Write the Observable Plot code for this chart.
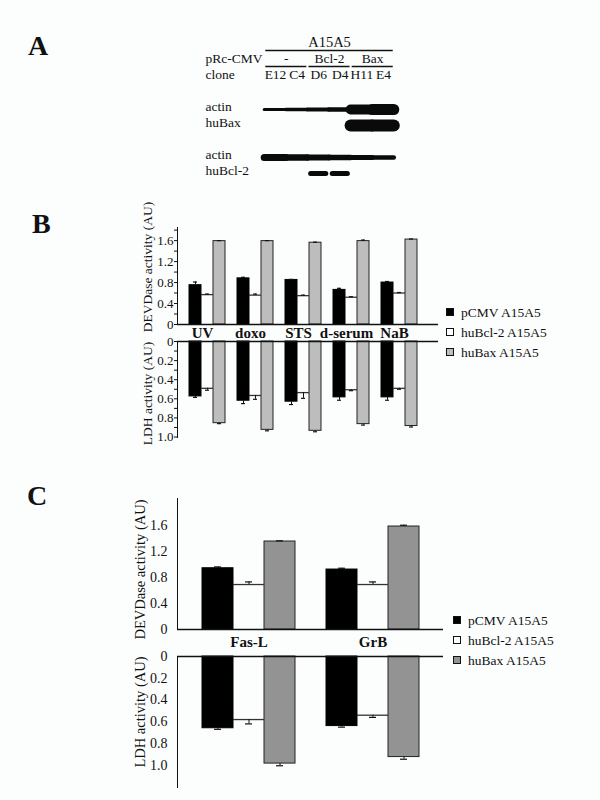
<!DOCTYPE html>
<html><head><meta charset="utf-8">
<script src="https://cdn.jsdelivr.net/npm/d3@7"></script>
<script src="https://cdn.jsdelivr.net/npm/@observablehq/plot@0.6"></script>
<style>
body{margin:0;background:#fcfefe;}
#root{position:relative;width:600px;height:800px;font-family:"Liberation Serif",serif;color:#111;overflow:hidden;}
.letter{position:absolute;font-weight:bold;font-size:28px;line-height:1;}
.legend{position:absolute;font-size:13.5px;line-height:20px;white-space:nowrap;}
.sw{display:inline-block;width:6px;height:6px;border:1px solid #111;margin-right:7px;vertical-align:middle;position:relative;top:-1px;}
</style></head><body><div id="root"></div>
<script>
// ---------- data ----------
const series = ["pCMV A15A5", "huBcl-2 A15A5", "huBax A15A5"];

// Panel A (western blot)
const clones = ["E12", "C4", "D6", "D4", "H11", "E4"];
const constructs = [
  {label: "-", lanes: ["E12", "C4"]},
  {label: "Bcl-2", lanes: ["D6", "D4"]},
  {label: "Bax", lanes: ["H11", "E4"]}
];
const blotRows = ["A15A5", "pRc-CMV", "clone", "sp1", "actin1", "huBax", "sp2", "actin2", "huBcl-2"];
const rowNames = ["pRc-CMV", "clone", "actin", "huBax", "actin", "huBcl-2"];
const rowKeys  = ["pRc-CMV", "clone", "actin1", "huBax", "actin2", "huBcl-2"];
const actinTopBand    = [3, 3.5, 4, 4.5, 10, 11];
const baxBand         = [0, 0, 0, 0, 12, 12];
const actinBottomBand = [7, 6.5, 6, 5.5, 5, 4.5];
const bcl2Band        = [0, 0, 5, 5, 0, 0];

// Panel B
const bCategories = ["UV", "doxo", "STS", "d-serum", "NaB"];
const bDevdPCMV = [0.75, 0.88, 0.85, 0.66, 0.80];
const bDevdBcl2 = [0.57, 0.56, 0.55, 0.52, 0.60];
const bDevdBax  = [1.59, 1.59, 1.56, 1.59, 1.62];
const bDevdErrPCMV = [0.06, 0.02, 0.01, 0.03, 0.02];
const bDevdErrBcl2 = [0.01, 0.02, 0.01, 0.01, 0.01];
const bDevdErrBax  = [0.01, 0.01, 0.01, 0.02, 0.01];
const bLdhPCMV = [0.575, 0.62, 0.63, 0.585, 0.585];
const bLdhBcl2 = [0.49, 0.565, 0.535, 0.505, 0.49];
const bLdhBax  = [0.855, 0.925, 0.935, 0.865, 0.885];
const bLdhErrPCMV = [0.01, 0.03, 0.03, 0.03, 0.03];
const bLdhErrBcl2 = [0.02, 0.04, 0.06, 0.01, 0.01];
const bLdhErrBax  = [0.005, 0.01, 0.01, 0.01, 0.01];

// Panel C
const cCategories = ["Fas-L", "GrB"];
const cDevdPCMV = [0.94, 0.92];
const cDevdBcl2 = [0.69, 0.69];
const cDevdBax  = [1.35, 1.58];
const cDevdErrPCMV = [0.02, 0.02];
const cDevdErrBcl2 = [0.04, 0.04];
const cDevdErrBax  = [0.01, 0.02];
const cLdhPCMV = [0.66, 0.64];
const cLdhBcl2 = [0.58, 0.54];
const cLdhBax  = [0.985, 0.925];
const cLdhErrPCMV = [0.01, 0.01];
const cLdhErrBcl2 = [0.04, 0.02];
const cLdhErrBax  = [0.02, 0.02];

const devdTicks = [0, 0.4, 0.8, 1.2, 1.6];
const devdMinorTicks = [0.2, 0.6, 1.0, 1.4, 1.8];
const ldhTicks  = [0, 0.2, 0.4, 0.6, 0.8, 1.0];
const ldhMinorTicks = [0.1, 0.3, 0.5, 0.7, 0.9];
const devdLabel = "DEVDase activity (AU)";
const ldhLabel  = "LDH activity (AU)";

// ---------- helpers ----------
const root = document.getElementById("root");
function place(node, top, left = 0) {
  node.style.position = "absolute"; node.style.top = top + "px"; node.style.left = left + "px";
  root.appendChild(node);
}
function table(cats, vals, errs) {
  const out = [];
  cats.forEach((c, i) => vals.forEach((arr, s) => out.push({cat: c, s, slot: c + "|" + s, v: arr[i], e: errs[s][i]})));
  return out;
}
function slotsOf(cats) {
  const d = [];
  cats.forEach((c, i) => { for (let s = 0; s < 3; s++) d.push(c + "|" + s); if (i < cats.length - 1) d.push("gap|" + i); });
  return d;
}
const baseStyle = {background: "transparent", fontFamily: "Liberation Serif, serif", fontSize: "14.5px", color: "#111", overflow: "visible"};

function barChart(o) {
  const data = table(o.cats, o.vals, o.errs);
  const major = new Set(o.ticks);
  const allTicks = [...o.ticks, ...(o.minor || [])].filter(t => t <= o.yDomain[1]).sort((a, b) => a - b);
  const fmt = d => !major.has(d) ? "" : d === 0 ? "0" : d.toFixed(1);
  const marks = [
    Plot.barY(data.filter(d => d.s === 0), {x: "slot", y: "v", fill: "#000", stroke: "#000", strokeWidth: 1}),
    Plot.barY(data.filter(d => d.s === 2), {x: "slot", y: "v", fill: o.gray, stroke: "#222", strokeWidth: 1}),
    Plot.tickY(data.filter(d => d.s === 1), {x: "slot", y: "v", stroke: "#333", strokeWidth: 1.3}),
    Plot.ruleX(data, {x: "slot", y1: "v", y2: d => d.v + d.e, stroke: "#111", strokeWidth: 1}),
    Plot.tickY(data, {x: "slot", y: d => d.v + d.e, stroke: "#111", strokeWidth: 1.2, insetLeft: o.cap, insetRight: o.cap}),
    Plot.ruleY([0], {stroke: "#111", strokeWidth: 1.3}),
    Plot.text([o.label], {text: d => d, frameAnchor: "left", textAnchor: "middle", lineAnchor: "middle", rotate: -90, dx: o.ldx, dy: o.ldy, fontSize: o.labelFont})
  ];
  if (o.showCats) marks.push(Plot.text(o.cats, {x: c => c + "|1", text: d => d, frameAnchor: "top", lineAnchor: "middle", dx: o.catDx, dy: o.catDy, fontWeight: "bold", fontSize: 15}));
  return Plot.plot({
    width: o.width, height: o.height,
    marginTop: o.mt, marginBottom: o.mb, marginLeft: o.ml, marginRight: o.mr,
    style: {...baseStyle, fontSize: o.tickFont},
    x: {domain: slotsOf(o.cats), range: o.xRange, padding: 0, axis: null},
    y: {domain: o.yDomain, reverse: !!o.reverse, ticks: allTicks, tickFormat: fmt, tickSize: o.tickSize, tickPadding: o.tickPadding, label: null, line: true},
    marks
  });
}

// ---------- panel A ----------
const lastLane = clones.length - 1;
const bandData = [];
[[actinTopBand, "actin1", 0.5], [baxBand, "huBax", 0.5], [actinBottomBand, "actin2", 0.5], [bcl2Band, "huBcl-2", 0.35]]
  .forEach(([arr, row, half]) => arr.forEach((w, i) => { if (w > 0) bandData.push({row, i, w, half}); }));
const groupData = constructs.map(g => ({label: g.label, a: clones.indexOf(g.lanes[0]), b: clones.indexOf(g.lanes[g.lanes.length - 1])}));

const plotA = Plot.plot({
  width: 420, height: 200, marginLeft: 205, marginRight: 10, marginTop: 20, marginBottom: 10,
  style: {...baseStyle, fontSize: "13.5px"},
  x: {domain: [0, lastLane], range: [275, 383], axis: null},
  y: {type: "point", domain: blotRows, range: [33, 178], axis: null},
  marks: [
    Plot.text(["A15A5"], {x: lastLane / 2, y: d => d, text: d => d, fontSize: 14.5}),
    Plot.ruleY(["A15A5"], {y: d => d, x1: -0.45, x2: lastLane + 0.45, dy: 8, stroke: "#111", strokeWidth: 1.3}),
    Plot.text(groupData, {x: d => (d.a + d.b) / 2, y: () => "pRc-CMV", text: "label", fontSize: 13.5}),
    Plot.ruleY(groupData, {y: () => "pRc-CMV", x1: d => d.a - 0.45, x2: d => d.b + 0.45, dy: 8, stroke: "#111", strokeWidth: 1.3}),
    Plot.text(clones, {x: (d, i) => i, y: () => "clone", text: d => d, fontSize: 13.5}),
    Plot.text(rowKeys, {y: d => d, text: (d, i) => rowNames[i], frameAnchor: "left", textAnchor: "start", fontSize: 13.5}),
    Plot.ruleY(bandData, {y: "row", x1: d => d.i - d.half, x2: d => d.i + d.half, strokeWidth: "w", stroke: "#0a0a0a", strokeLinecap: "round", dy: 3})
  ]
});
place(plotA, 0);

// ---------- panel B ----------
const plotBTop = barChart({
  cats: bCategories, vals: [bDevdPCMV, bDevdBcl2, bDevdBax], errs: [bDevdErrPCMV, bDevdErrBcl2, bDevdErrBax],
  width: 440, height: 135, mt: 27, mb: 11, ml: 177, mr: 2, xRange: [188, 418],
  yDomain: [0, 1.85], ticks: devdTicks, minor: devdMinorTicks, tickSize: 3, tickPadding: 1, tickFont: "13px", gray: "#bdbdbd", cap: 4,
  label: devdLabel, labelFont: 13.5, ldx: -30, ldy: -9
});
place(plotBTop, 200);
const plotBBot = barChart({
  cats: bCategories, vals: [bLdhPCMV, bLdhBcl2, bLdhBax], errs: [bLdhErrPCMV, bLdhErrBcl2, bLdhErrBax],
  width: 440, height: 122, mt: 21, mb: 5, ml: 177, mr: 2, xRange: [188, 418],
  yDomain: [0, 1.005], reverse: true, ticks: ldhTicks, minor: ldhMinorTicks, tickSize: 3, tickPadding: 1, tickFont: "13px", gray: "#bdbdbd", cap: 4,
  label: ldhLabel, labelFont: 13.5, ldx: -30, ldy: 4,
  showCats: true, catDx: -5, catDy: -8
});
place(plotBBot, 320);

// ---------- panel C ----------
const plotCTop = barChart({
  cats: cCategories, vals: [cDevdPCMV, cDevdBcl2, cDevdBax], errs: [cDevdErrPCMV, cDevdErrBcl2, cDevdErrBax],
  width: 445, height: 155, mt: 18, mb: 6, ml: 177, mr: 2, xRange: [201, 420],
  yDomain: [0, 2.01], ticks: devdTicks, tickSize: 0, tickPadding: 10, tickFont: "14px", gray: "#939393", cap: 12,
  label: devdLabel, labelFont: 14.5, ldx: -37, ldy: 5.5
});
place(plotCTop, 480);
const plotCBot = barChart({
  cats: cCategories, vals: [cLdhPCMV, cLdhBcl2, cLdhBax], errs: [cLdhErrPCMV, cLdhErrBcl2, cLdhErrBax],
  width: 445, height: 160, mt: 26, mb: 3, ml: 177, mr: 2, xRange: [201, 420],
  yDomain: [0, 1.205], reverse: true, ticks: ldhTicks, tickSize: 0, tickPadding: 10, tickFont: "14px", gray: "#939393", cap: 12,
  label: ldhLabel, labelFont: 14.5, ldx: -37, ldy: -10,
  showCats: true, catDx: 0, catDy: -14
});
place(plotCBot, 630);

// ---------- letters & legends ----------
[["A", 32, 28], ["B", 210, 32], ["C", 482, 27]].forEach(([t, top, left]) => {
  const d = document.createElement("div"); d.className = "letter"; d.textContent = t;
  d.style.top = top + "px"; d.style.left = left + "px"; root.appendChild(d);
});
function legend(top, left, gray) {
  const colors = ["#000", "#fff", gray];
  const d = document.createElement("div"); d.className = "legend";
  d.style.top = top + "px"; d.style.left = left + "px";
  series.forEach((s, i) => {
    const row = document.createElement("div");
    const sw = document.createElement("span"); sw.className = "sw"; sw.style.background = colors[i];
    row.appendChild(sw); row.appendChild(document.createTextNode(s)); d.appendChild(row);
  });
  root.appendChild(d);
}
legend(302.5, 446, "#bdbdbd");
legend(610.5, 453, "#939393");
</script></body></html>
